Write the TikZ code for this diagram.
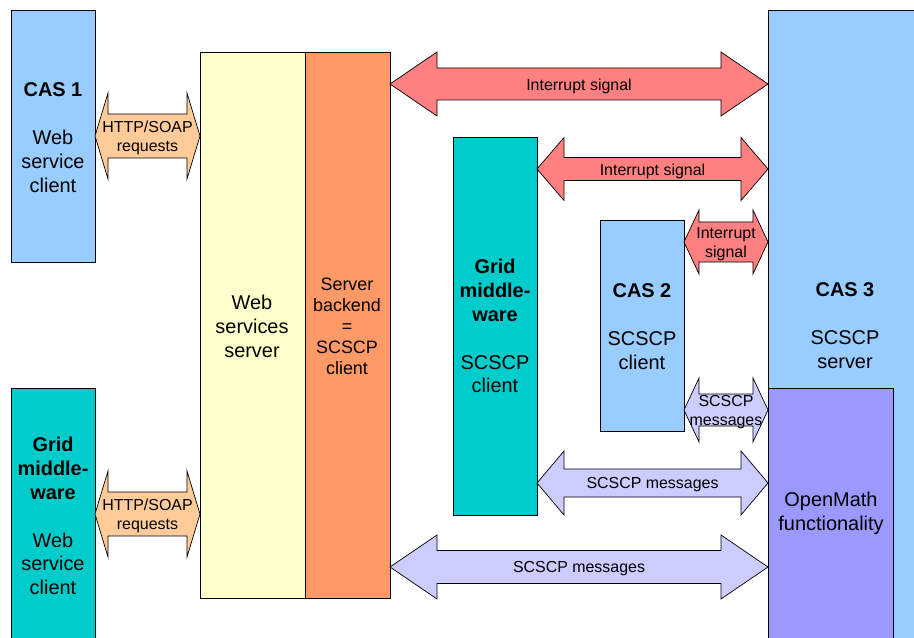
\documentclass[tikz,border=0pt]{standalone}
\usepackage{fontspec}
\setmainfont{Liberation Sans}
\usetikzlibrary{calc}
\definecolor{casblue}{HTML}{99CCFF}
\definecolor{gridteal}{HTML}{00CCCC}
\definecolor{wssyellow}{HTML}{FFFFCC}
\definecolor{sborange}{HTML}{FF9966}
\definecolor{omviolet}{HTML}{9999FF}
\definecolor{intred}{HTML}{FF8080}
\definecolor{msglav}{HTML}{CCCCFF}
\definecolor{httppeach}{HTML}{FFCC99}
% #1 fill, #2 left node, #3 right node, #4 y, #5 shaft half, #6 head half, #7 head length, #8 label, #9 label name
\newcommand\blockarrow[9]{%
  \coordinate (L) at (#2.east |- 0,#4);
  \coordinate (R) at (#3.west |- 0,#4);
  \draw[arr, fill=#1] (L) -- ($(L)+(#7,-#6)$) -- ($(L)+(#7,-#5)$) -- ($(R)+(-#7,-#5)$)
    -- ($(R)+(-#7,-#6)$) -- (R) -- ($(R)+(-#7,#6)$) -- ($(R)+(-#7,#5)$)
    -- ($(L)+(#7,#5)$) -- ($(L)+(#7,#6)$) -- cycle;
  \node[lbl] (#9) at ($(L)!0.5!(R)$) {#8};
}
\begin{document}
\begin{tikzpicture}[x=1bp,y=-1bp,
  box/.style={draw=black, line width=0.9bp, outer sep=0pt, inner sep=0pt, anchor=north west},
  txt/.style={align=center, font=\fontsize{20}{24}\selectfont, inner sep=0pt},
  lbl/.style={align=center, font=\fontsize{16}{19}\selectfont, inner sep=0pt, yshift=-2bp},
  arr/.style={draw=black, line width=0.7bp, line join=miter}]
\useasboundingbox (0,0) rectangle (914,638);
\clip (0,0) rectangle (914,638);
\fill[white] (0,0) rectangle (914,638);

\node[box, fill=casblue, minimum width=84bp, minimum height=252bp] (cas1) at (11,10) {};
\node[box, fill=gridteal, minimum width=84bp, minimum height=260bp] (gridL) at (11,388) {};
\node[box, fill=wssyellow, minimum width=105bp, minimum height=546bp] (wss) at (200,52) {};
\node[box, fill=sborange, minimum width=85bp, minimum height=546bp] (sb) at (305,52) {};
\node[box, fill=gridteal, minimum width=84bp, minimum height=378bp] (gridC) at (453,137) {};
\node[box, fill=casblue, minimum width=84bp, minimum height=211bp] (cas2) at (600,220) {};
\node[box, fill=casblue, minimum width=160bp, minimum height=640bp] (cas3) at (768,10) {};
\node[box, fill=omviolet, minimum width=125bp, minimum height=260bp] (om) at (768,388) {};

\node[txt] (t1) at (53,138) {\textbf{CAS 1}\\[24bp]Web\\service\\client};
\node[txt] (t2) at (53,516) {\textbf{Grid}\\\textbf{middle-}\\\textbf{ware}\\[24bp]Web\\service\\client};
\node[txt] (t3) at (252,326) {Web\\services\\server};
\node[txt, font=\fontsize{18}{21}\selectfont] (t4) at (347,326) {Server\\backend\\=\\SCSCP\\client};
\node[txt] (t5) at (495,326) {\textbf{Grid}\\\textbf{middle-}\\\textbf{ware}\\[24bp]SCSCP\\client};
\node[txt] (t6) at (642,326.5) {\textbf{CAS 2}\\[24bp]SCSCP\\client};
\node[txt] (t7) at (845,325.5) {\textbf{CAS 3}\\[24bp]SCSCP\\server};
\node[txt] (t8) at (831,513) {OpenMath\\functionality};

\blockarrow{httppeach}{cas1}{wss}{136}{22}{43}{13}{HTTP/SOAP\\requests}{a1}
\blockarrow{httppeach}{gridL}{wss}{514}{22}{43}{13}{HTTP/SOAP\\requests}{a2}
\blockarrow{intred}{sb}{cas3}{84}{16}{32}{47}{Interrupt signal}{a3}
\blockarrow{intred}{gridC}{cas3}{169}{11.5}{31.5}{27}{Interrupt signal}{a4}
\blockarrow{intred}{cas2}{cas3}{242}{20}{32}{15}{Interrupt\\signal}{a5}
\blockarrow{msglav}{cas2}{om}{410}{16}{32}{15}{SCSCP\\messages}{a6}
\blockarrow{msglav}{gridC}{om}{483}{14}{32}{27}{SCSCP messages}{a7}
\blockarrow{msglav}{sb}{om}{567}{16.5}{32}{47}{SCSCP messages}{a8}
\end{tikzpicture}
\end{document}
